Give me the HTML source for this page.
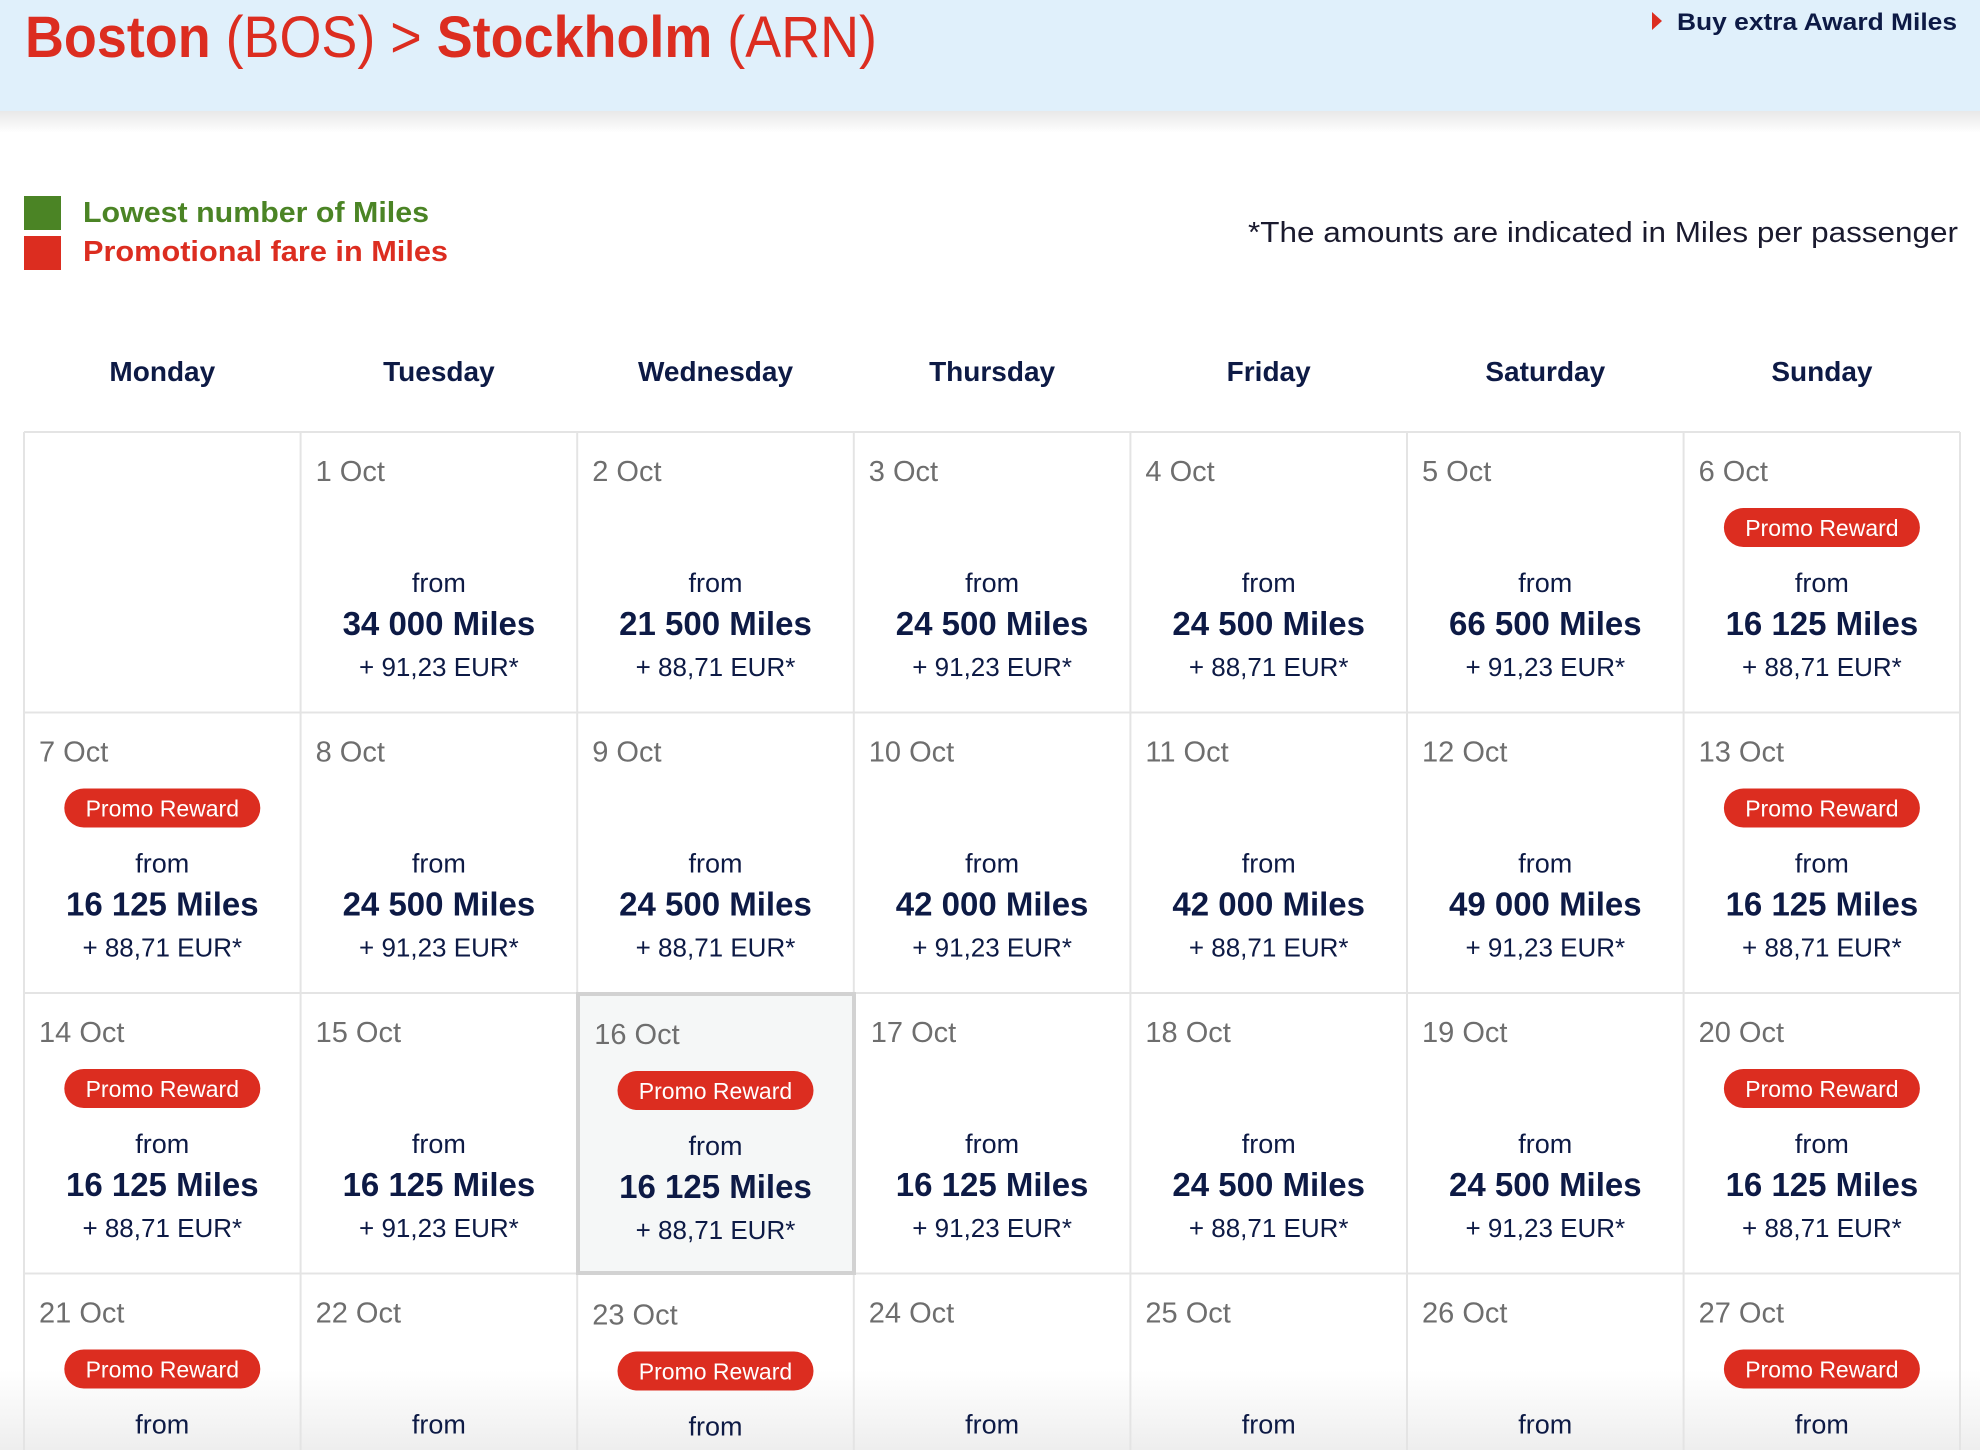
<!DOCTYPE html>
<html><head><meta charset="utf-8"><style>
html,body{margin:0;padding:0;background:#fff;}
svg{display:block;font-family:"Liberation Sans",sans-serif;}
.d{font-size:29px;fill:#6e6e6e;}
.f{font-size:27px;fill:#0d1a45;text-anchor:middle;}
.m{font-size:33px;font-weight:bold;fill:#0d1a45;text-anchor:middle;}
.e{font-size:26px;fill:#0d1a45;text-anchor:middle;}
.pt{font-size:23px;fill:#fff;text-anchor:middle;}
.wd{font-size:28px;font-weight:bold;fill:#0d1a45;text-anchor:middle;}
</style></head><body>
<svg width="1980" height="1450" viewBox="0 0 1980 1450" xmlns="http://www.w3.org/2000/svg">
<defs>
<linearGradient id="sh" x1="0" y1="0" x2="0" y2="1"><stop offset="0" stop-color="#e8e8e8"/><stop offset="1" stop-color="#ffffff"/></linearGradient>
<linearGradient id="bt" x1="0" y1="0" x2="0" y2="1"><stop offset="0" stop-color="#ffffff"/><stop offset="1" stop-color="#eeeeee"/></linearGradient>
<g id="pill"><rect x="40.3" y="76" width="196" height="39" rx="19.5" fill="#dc2d20"/><text class="pt" x="138.3" y="104">Promo Reward</text></g>
</defs>
<rect x="0" y="1370" width="1980" height="80" fill="url(#bt)"/>
<rect x="0" y="0" width="1980" height="111" fill="#e0f0fb"/>
<rect x="0" y="111" width="1980" height="22" fill="url(#sh)"/>
<text x="25" y="57" font-size="58" fill="#dc2d20" textLength="852" lengthAdjust="spacingAndGlyphs"><tspan font-weight="bold">Boston</tspan> (BOS) &gt; <tspan font-weight="bold">Stockholm</tspan> (ARN)</text>
<polygon points="1652,12 1662,21 1652,30" fill="#dc2d20"/>
<text x="1677" y="30" font-size="24" font-weight="bold" fill="#0d1a45" textLength="280" lengthAdjust="spacingAndGlyphs">Buy extra Award Miles</text>
<rect x="24" y="196" width="37" height="34" fill="#4b8425"/>
<rect x="24" y="236" width="37" height="34" fill="#dc2d20"/>
<text x="83" y="222" font-size="29" font-weight="bold" fill="#4b8425" textLength="346" lengthAdjust="spacingAndGlyphs">Lowest number of Miles</text>
<text x="83" y="261" font-size="29" font-weight="bold" fill="#dc2d20" textLength="365" lengthAdjust="spacingAndGlyphs">Promotional fare in Miles</text>
<text x="1248" y="242" font-size="29" fill="#1a1a2e" textLength="710" lengthAdjust="spacingAndGlyphs">*The amounts are indicated in Miles per passenger</text>
<text class="wd" x="162.3" y="381">Monday</text>
<text class="wd" x="438.9" y="381">Tuesday</text>
<text class="wd" x="715.5" y="381">Wednesday</text>
<text class="wd" x="992.1" y="381">Thursday</text>
<text class="wd" x="1268.7" y="381">Friday</text>
<text class="wd" x="1545.3" y="381">Saturday</text>
<text class="wd" x="1821.9" y="381">Sunday</text>
<g stroke="#e4e4e4" stroke-width="2">
<line x1="24" y1="432" x2="1960" y2="432"/>
<line x1="24" y1="712.5" x2="1960" y2="712.5"/>
<line x1="24" y1="993" x2="1960" y2="993"/>
<line x1="24" y1="1273.5" x2="1960" y2="1273.5"/>
<line x1="24" y1="432" x2="24" y2="1450"/>
<line x1="300.6" y1="432" x2="300.6" y2="1450"/>
<line x1="577.2" y1="432" x2="577.2" y2="1450"/>
<line x1="853.8" y1="432" x2="853.8" y2="1450"/>
<line x1="1130.4" y1="432" x2="1130.4" y2="1450"/>
<line x1="1407" y1="432" x2="1407" y2="1450"/>
<line x1="1683.6" y1="432" x2="1683.6" y2="1450"/>
<line x1="1960" y1="432" x2="1960" y2="1450"/>
</g>
<rect x="578" y="994" width="276" height="279" fill="#f5f7f7" stroke="#d2d2d2" stroke-width="4"/>
<g transform="translate(300.6,432)"><text class="d" x="15" y="49">1 Oct</text><text class="f" x="138.3" y="160">from</text><text class="m" x="138.3" y="203">34 000 Miles</text><text class="e" x="138.3" y="244">+ 91,23 EUR*</text></g>
<g transform="translate(577.2,432)"><text class="d" x="15" y="49">2 Oct</text><text class="f" x="138.3" y="160">from</text><text class="m" x="138.3" y="203">21 500 Miles</text><text class="e" x="138.3" y="244">+ 88,71 EUR*</text></g>
<g transform="translate(853.8,432)"><text class="d" x="15" y="49">3 Oct</text><text class="f" x="138.3" y="160">from</text><text class="m" x="138.3" y="203">24 500 Miles</text><text class="e" x="138.3" y="244">+ 91,23 EUR*</text></g>
<g transform="translate(1130.4,432)"><text class="d" x="15" y="49">4 Oct</text><text class="f" x="138.3" y="160">from</text><text class="m" x="138.3" y="203">24 500 Miles</text><text class="e" x="138.3" y="244">+ 88,71 EUR*</text></g>
<g transform="translate(1407,432)"><text class="d" x="15" y="49">5 Oct</text><text class="f" x="138.3" y="160">from</text><text class="m" x="138.3" y="203">66 500 Miles</text><text class="e" x="138.3" y="244">+ 91,23 EUR*</text></g>
<g transform="translate(1683.6,432)"><text class="d" x="15" y="49">6 Oct</text><use href="#pill"/><text class="f" x="138.3" y="160">from</text><text class="m" x="138.3" y="203">16 125 Miles</text><text class="e" x="138.3" y="244">+ 88,71 EUR*</text></g>
<g transform="translate(24,712.5)"><text class="d" x="15" y="49">7 Oct</text><use href="#pill"/><text class="f" x="138.3" y="160">from</text><text class="m" x="138.3" y="203">16 125 Miles</text><text class="e" x="138.3" y="244">+ 88,71 EUR*</text></g>
<g transform="translate(300.6,712.5)"><text class="d" x="15" y="49">8 Oct</text><text class="f" x="138.3" y="160">from</text><text class="m" x="138.3" y="203">24 500 Miles</text><text class="e" x="138.3" y="244">+ 91,23 EUR*</text></g>
<g transform="translate(577.2,712.5)"><text class="d" x="15" y="49">9 Oct</text><text class="f" x="138.3" y="160">from</text><text class="m" x="138.3" y="203">24 500 Miles</text><text class="e" x="138.3" y="244">+ 88,71 EUR*</text></g>
<g transform="translate(853.8,712.5)"><text class="d" x="15" y="49">10 Oct</text><text class="f" x="138.3" y="160">from</text><text class="m" x="138.3" y="203">42 000 Miles</text><text class="e" x="138.3" y="244">+ 91,23 EUR*</text></g>
<g transform="translate(1130.4,712.5)"><text class="d" x="15" y="49">11 Oct</text><text class="f" x="138.3" y="160">from</text><text class="m" x="138.3" y="203">42 000 Miles</text><text class="e" x="138.3" y="244">+ 88,71 EUR*</text></g>
<g transform="translate(1407,712.5)"><text class="d" x="15" y="49">12 Oct</text><text class="f" x="138.3" y="160">from</text><text class="m" x="138.3" y="203">49 000 Miles</text><text class="e" x="138.3" y="244">+ 91,23 EUR*</text></g>
<g transform="translate(1683.6,712.5)"><text class="d" x="15" y="49">13 Oct</text><use href="#pill"/><text class="f" x="138.3" y="160">from</text><text class="m" x="138.3" y="203">16 125 Miles</text><text class="e" x="138.3" y="244">+ 88,71 EUR*</text></g>
<g transform="translate(24,993)"><text class="d" x="15" y="49">14 Oct</text><use href="#pill"/><text class="f" x="138.3" y="160">from</text><text class="m" x="138.3" y="203">16 125 Miles</text><text class="e" x="138.3" y="244">+ 88,71 EUR*</text></g>
<g transform="translate(300.6,993)"><text class="d" x="15" y="49">15 Oct</text><text class="f" x="138.3" y="160">from</text><text class="m" x="138.3" y="203">16 125 Miles</text><text class="e" x="138.3" y="244">+ 91,23 EUR*</text></g>
<g transform="translate(577.2,995)"><text class="d" x="17" y="49">16 Oct</text><use href="#pill"/><text class="f" x="138.3" y="160">from</text><text class="m" x="138.3" y="203">16 125 Miles</text><text class="e" x="138.3" y="244">+ 88,71 EUR*</text></g>
<g transform="translate(853.8,993)"><text class="d" x="17" y="49">17 Oct</text><text class="f" x="138.3" y="160">from</text><text class="m" x="138.3" y="203">16 125 Miles</text><text class="e" x="138.3" y="244">+ 91,23 EUR*</text></g>
<g transform="translate(1130.4,993)"><text class="d" x="15" y="49">18 Oct</text><text class="f" x="138.3" y="160">from</text><text class="m" x="138.3" y="203">24 500 Miles</text><text class="e" x="138.3" y="244">+ 88,71 EUR*</text></g>
<g transform="translate(1407,993)"><text class="d" x="15" y="49">19 Oct</text><text class="f" x="138.3" y="160">from</text><text class="m" x="138.3" y="203">24 500 Miles</text><text class="e" x="138.3" y="244">+ 91,23 EUR*</text></g>
<g transform="translate(1683.6,993)"><text class="d" x="15" y="49">20 Oct</text><use href="#pill"/><text class="f" x="138.3" y="160">from</text><text class="m" x="138.3" y="203">16 125 Miles</text><text class="e" x="138.3" y="244">+ 88,71 EUR*</text></g>
<g transform="translate(24,1273.5)"><text class="d" x="15" y="49">21 Oct</text><use href="#pill"/><text class="f" x="138.3" y="160">from</text></g>
<g transform="translate(300.6,1273.5)"><text class="d" x="15" y="49">22 Oct</text><text class="f" x="138.3" y="160">from</text></g>
<g transform="translate(577.2,1275.5)"><text class="d" x="15" y="49">23 Oct</text><use href="#pill"/><text class="f" x="138.3" y="160">from</text></g>
<g transform="translate(853.8,1273.5)"><text class="d" x="15" y="49">24 Oct</text><text class="f" x="138.3" y="160">from</text></g>
<g transform="translate(1130.4,1273.5)"><text class="d" x="15" y="49">25 Oct</text><text class="f" x="138.3" y="160">from</text></g>
<g transform="translate(1407,1273.5)"><text class="d" x="15" y="49">26 Oct</text><text class="f" x="138.3" y="160">from</text></g>
<g transform="translate(1683.6,1273.5)"><text class="d" x="15" y="49">27 Oct</text><use href="#pill"/><text class="f" x="138.3" y="160">from</text></g>
</svg>
</body></html>
